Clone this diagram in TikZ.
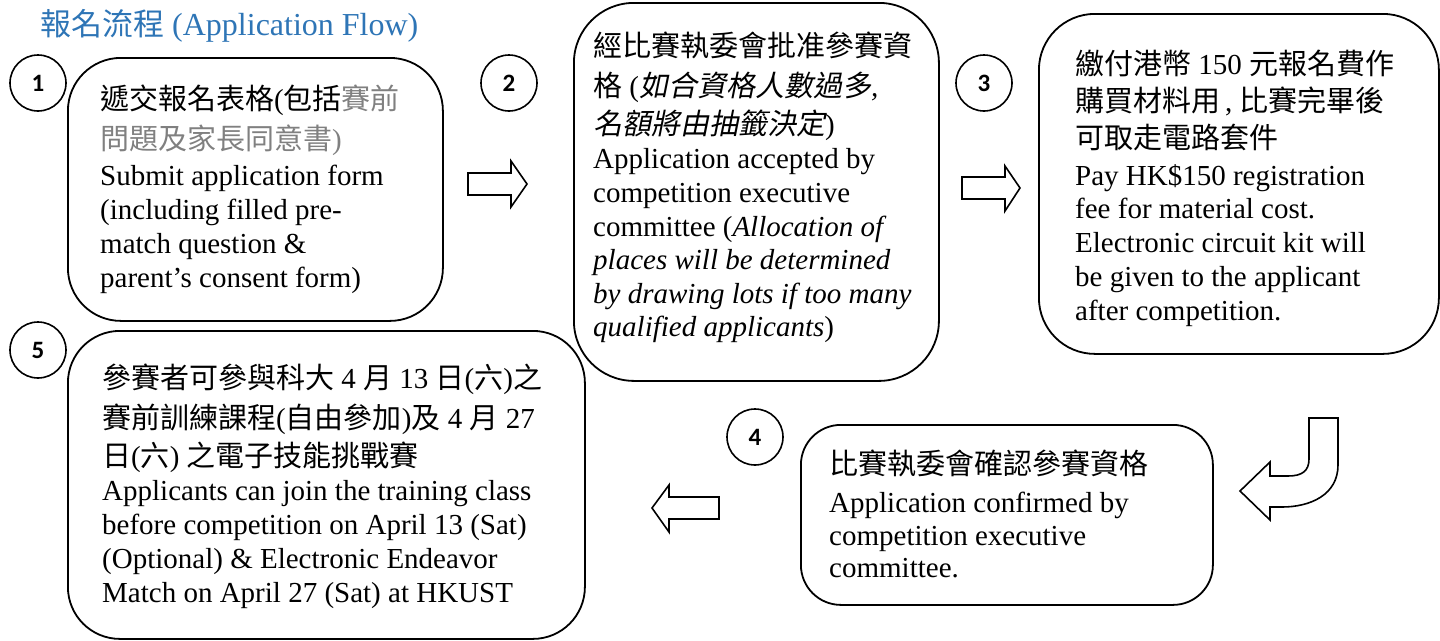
\documentclass[tikz,border=0pt]{standalone}
\usepackage{fontspec}
\setmainfont{Liberation Serif}
\newfontfamily\cjk{Noto Sans CJK TC}
\newfontfamily\cjkit[FakeSlant=0.2]{Noto Sans CJK TC}
\newfontfamily\numfnt{Carlito}
\definecolor{ttl}{HTML}{2E75B6}
\definecolor{gr}{HTML}{808080}
\newcommand\zh[1]{{\cjk\fontsize{29}{34}\selectfont #1}}
\newcommand\zhi[1]{{\cjkit\fontsize{29}{34}\selectfont #1}}
\begin{document}
\begin{tikzpicture}[x=1pt,y=-1pt,
  box/.style={draw,line width=1.8pt,rectangle,anchor=north west,inner sep=0pt},
  num/.style={draw,circle,line width=1.6pt,minimum size=56pt,inner sep=0pt,font=\numfnt\bfseries\fontsize{25}{26}\selectfont},
  tx/.style={anchor=base west,inner sep=0pt,font=\fontsize{29}{34}\selectfont},
  blk/.style={draw,line width=1.6pt,line join=miter,fill=white}]
\useasboundingbox (0,0) rectangle (1440,640);
% title
\node[tx,text=ttl,font=\fontsize{32}{36}\selectfont] (title) at (40,35) {{\cjk\fontsize{31}{36}\selectfont 報名流程} (Application Flow)};
% boxes
\node[box,minimum width=375pt,minimum height=263pt,rounded corners=53pt] (b1) at (67,57) {};
\node[box,minimum width=365pt,minimum height=378pt,rounded corners=60pt] (b2) at (573,2) {};
\node[box,minimum width=400pt,minimum height=340pt,rounded corners=56pt] (b3) at (1038,13) {};
\node[box,minimum width=412pt,minimum height=180pt,rounded corners=40pt] (b4) at (800,424) {};
\node[box,minimum width=517pt,minimum height=308pt,rounded corners=52pt] (b5) at (67,330) {};
% number circles
\node[num] (n1) at (38,83) {1};
\node[num] (n2) at (509,83) {2};
\node[num] (n3) at (984,83) {3};
\node[num] (n4) at (755,437) {4};
\node[num] (n5) at (38,350) {5};
% block arrows
\draw[blk] (468,173) -- (511,173) -- (511,161) -- (527,184) -- (511,207) -- (511,195) -- (468,195) -- cycle;
\draw[blk] (962,177) -- (1005,177) -- (1005,166) -- (1020,188) -- (1005,211) -- (1005,199) -- (962,199) -- cycle;
\draw[blk] (719,497) -- (669,497) -- (669,485) -- (652,508) -- (669,532) -- (669,519) -- (719,519) -- cycle;
\draw[blk] (1309,418) -- (1338,418) -- (1338,465) .. controls (1338,495) and (1310,507) .. (1282,507) -- (1270,507) -- (1270,520) -- (1240,491) -- (1270,462) -- (1270,476) -- (1288,476) .. controls (1302,476) and (1309,471) .. (1309,459) -- cycle;
% box 1 text
\node[tx] (t1a) at (100,109) {\zh{遞交報名表格}(\zh{包括}\textcolor{gr}{\zh{賽前}}};
\node[tx,text=gr] (t1b) at (100,149) {\zh{問題及家長同意書})};
\node[tx] (t1c) at (100,185) {Submit application form};
\node[tx] (t1d) at (100,219) {(including filled pre-};
\node[tx] (t1e) at (100,253) {match question \&};
\node[tx] (t1f) at (100,287) {parent’s consent form)};
% box 2 text
\node[tx] (t2a) at (593,56) {\zh{經比賽執委會批准參賽資}};
\node[tx] (t2b) at (593,96) {\zh{格} (\zhi{如合資格人數過多}\textit{,}};
\node[tx] (t2c) at (593,134) {\zhi{名額將由抽籤決定})};
\node[tx] (t2d) at (593,168) {Application accepted by};
\node[tx] (t2e) at (593,202) {competition executive};
\node[tx] (t2f) at (593,236) {committee (\textit{Allocation of}};
\node[tx] (t2g) at (593,269) {\textit{places will be determined}};
\node[tx] (t2h) at (593,303) {\textit{by drawing lots if too many}};
\node[tx] (t2i) at (593,336) {\textit{qualified applicants})};
% box 3 text
\node[tx] (t3a) at (1075,74) {\zh{繳付港幣} 150 \zh{元報名費作}};
\node[tx] (t3b) at (1075,111) {\zh{購買材料用}\,,\ \zh{比賽完畢後}};
\node[tx] (t3c) at (1075,148) {\zh{可取走電路套件}};
\node[tx] (t3d) at (1075,185) {Pay HK\$150 registration};
\node[tx] (t3e) at (1075,218) {fee for material cost.};
\node[tx] (t3f) at (1075,252) {Electronic circuit kit will};
\node[tx] (t3g) at (1075,286) {be given to the applicant};
\node[tx] (t3h) at (1075,320) {after competition.};
% box 4 text
\node[tx] (t4a) at (829,474) {\zh{比賽執委會確認參賽資格}};
\node[tx] (t4b) at (829,512) {Application confirmed by};
\node[tx] (t4c) at (829,545) {competition executive};
\node[tx] (t4d) at (829,577) {committee.};
% box 5 text
\node[tx] (t5a) at (102,388) {\zh{參賽者可參與科大} 4 \zh{月} 13 \zh{日}(\zh{六})\zh{之}};
\node[tx] (t5b) at (102,428) {\zh{賽前訓練課程}(\zh{自由參加})\zh{及} 4 \zh{月} 27};
\node[tx] (t5c) at (102,466) {\zh{日}(\zh{六}) \zh{之電子技能挑戰賽}};
\node[tx] (t5d) at (102,500) {Applicants can join the training class};
\node[tx] (t5e) at (102,534) {before competition on April 13 (Sat)};
\node[tx] (t5f) at (102,568) {(Optional) \& Electronic Endeavor};
\node[tx] (t5g) at (102,602) {Match on April 27 (Sat) at HKUST};
\end{tikzpicture}
\end{document}
